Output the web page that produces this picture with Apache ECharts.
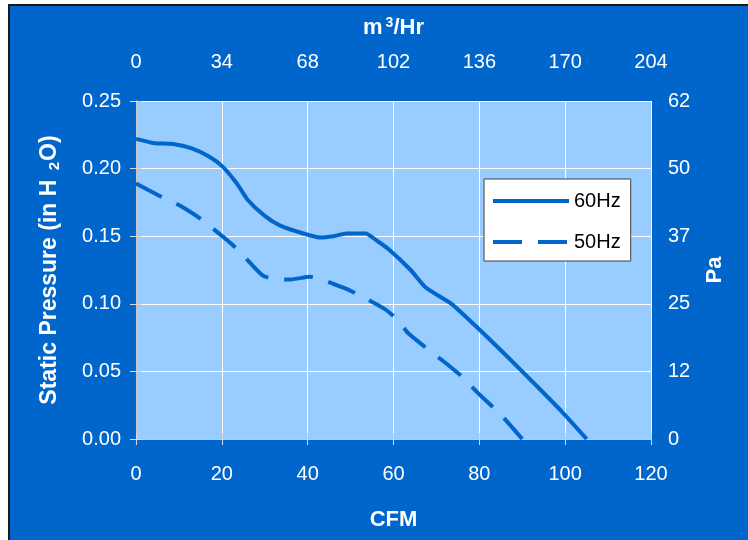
<!DOCTYPE html>
<html>
<head>
<meta charset="utf-8">
<script src="https://cdn.jsdelivr.net/npm/echarts@6/dist/echarts.min.js"></script>
<style>
  html, body { margin: 0; padding: 0; background: #ffffff; }
  #chart { width: 748px; height: 540px; }
</style>
</head>
<body>
<div id="chart"></div>
<script>
// fan curves
var cfm60 = [0, 4, 9, 13, 17, 20, 23.5, 26, 30, 33.5, 39, 43, 46, 49, 53.5, 56, 59, 64, 67.5, 73.5, 80, 86.5, 92.5, 99, 105];
var sp60  = [0.222, 0.219, 0.218, 0.215, 0.209, 0.202, 0.189, 0.177, 0.165, 0.158, 0.152, 0.149, 0.150, 0.152, 0.152, 0.147, 0.140, 0.125, 0.112, 0.100, 0.081, 0.061, 0.042, 0.021, 0];

var cfm50 = [0, 6, 10, 15, 17, 22, 25.5, 29.5, 33, 36, 40.5, 49, 53.5, 58, 61, 63.5, 73, 76, 80, 85, 90];
var sp50  = [0.189, 0.179, 0.173, 0.163, 0.158, 0.145, 0.134, 0.121, 0.118, 0.118, 0.120, 0.111, 0.104, 0.096, 0.088, 0.078, 0.054, 0.046, 0.033, 0.018, 0];

// second axes labels
var m3hrLabels = ['0', '34', '68', '102', '136', '170', '204'];
var paLabels = ['0', '12', '25', '37', '50', '62'];

function pairs(xs, ys){
  var out = [];
  for(var i=0;i<xs.length;i++){
    out.push([xs[i], ys[i]]);
  }
  return out;
}

var font = 'Liberation Sans, Arial, sans-serif';
var blue = '#0066CC';
var dash50 = [29, 16];
var tickLine = {show: true, length: 6, lineStyle: {color: '#d8d8d8', width: 1}};
var axLine = {show: true, lineStyle: {color: '#c8c8c8', width: 1}};
var lbl = {color: '#ffffff', fontSize: 20, fontFamily: font};
var nameBold = {color: '#ffffff', fontSize: 22, fontWeight: 'bold', fontFamily: font};

var myChart = echarts.init(document.getElementById('chart'));
var option = {
  backgroundColor: '#ffffff',
  animation: false,
  graphic: [
    {
      type: 'rect',
      z: -10,
      silent: true,
      shape: {x: 9, y: 5, width: 800, height: 600},
      style: {fill: blue, stroke: '#1a1a1a', lineWidth: 2}
    }
  ],
  grid: {
    left: 136,
    right: 97,
    top: 101,
    bottom: 101,
    show: true,
    backgroundColor: '#99CCFF',
    borderWidth: 0
  },
  legend: {
    orient: 'vertical',
    left: 484,
    top: 179,
    padding: [12, 10, 9, 7],
    itemWidth: 76,
    itemHeight: 20,
    itemGap: 21,
    backgroundColor: '#ffffff',
    borderColor: '#404040',
    borderWidth: 1,
    textStyle: {color: '#000000', fontSize: 20, fontFamily: font},
    itemStyle: {color: 'transparent', borderWidth: 0, opacity: 0},
    data: [
      {name: '60Hz', lineStyle: {color: blue, width: 4, type: 'solid'}},
      {name: '50Hz', lineStyle: {color: blue, width: 4, type: dash50}}
    ]
  },
  xAxis: [
    {
      type: 'value',
      position: 'bottom',
      min: 0, max: 120, interval: 20,
      name: 'CFM',
      nameLocation: 'middle',
      nameGap: 70,
      nameTextStyle: nameBold,
      axisLine: axLine,
      axisTick: tickLine,
      axisLabel: Object.assign({margin: 25}, lbl),
      splitLine: {show: true, lineStyle: {color: '#ffffff', width: 1}}
    },
    {
      type: 'value',
      position: 'top',
      min: 0, max: 120, interval: 20,
      name: '{a|m}{s|3}{a|/Hr}',
      nameLocation: 'middle',
      nameGap: 61,
      nameTextStyle: {
        rich: {
          a: nameBold,
          s: {color: '#ffffff', fontSize: 14, fontWeight: 'bold', fontFamily: font, padding: [0, 0, 10, 3]}
        }
      },
      axisLine: axLine,
      axisTick: tickLine,
      axisLabel: Object.assign({
        margin: 29,
        formatter: function(v){ return m3hrLabels[Math.round(v/20)]; }
      }, lbl),
      splitLine: {show: false}
    }
  ],
  yAxis: [
    {
      type: 'value',
      position: 'left',
      min: 0, max: 0.25, interval: 0.05,
      name: '{a|Static Pressure (in H }{s|2}{a|O)}',
      nameLocation: 'middle',
      nameGap: 74,
      nameTextStyle: {
        rich: {
          a: {color: '#ffffff', fontSize: 23, fontWeight: 'bold', fontFamily: font},
          s: {color: '#ffffff', fontSize: 15, fontWeight: 'bold', fontFamily: font, padding: [10, 1, 0, 3]}
        }
      },
      axisLine: axLine,
      axisTick: tickLine,
      axisLabel: Object.assign({
        margin: 15,
        formatter: function(v){ return v.toFixed(2); }
      }, lbl),
      splitLine: {show: true, lineStyle: {color: '#ffffff', width: 1}}
    },
    {
      type: 'value',
      position: 'right',
      min: 0, max: 0.25, interval: 0.05,
      name: 'Pa',
      nameLocation: 'middle',
      nameGap: 53,
      nameTextStyle: nameBold,
      axisLine: axLine,
      axisTick: tickLine,
      axisLabel: Object.assign({
        margin: 17,
        formatter: function(v){ return paLabels[Math.round(v/0.05)]; }
      }, lbl),
      splitLine: {show: false}
    }
  ],
  series: [
    {
      name: '60Hz',
      type: 'line',
      xAxisIndex: 0,
      yAxisIndex: 0,
      symbol: 'none',
      smooth: 0.2,
      lineStyle: {color: blue, width: 4, cap: 'butt', join: 'round'},
      itemStyle: {color: blue},
      data: pairs(cfm60, sp60)
    },
    {
      name: '50Hz',
      type: 'line',
      xAxisIndex: 0,
      yAxisIndex: 0,
      symbol: 'none',
      smooth: 0.2,
      lineStyle: {color: blue, width: 4, type: dash50, cap: 'butt', join: 'round'},
      itemStyle: {color: blue},
      data: pairs(cfm50, sp50)
    }
  ]
};
myChart.setOption(option);
</script>
</body>
</html>
